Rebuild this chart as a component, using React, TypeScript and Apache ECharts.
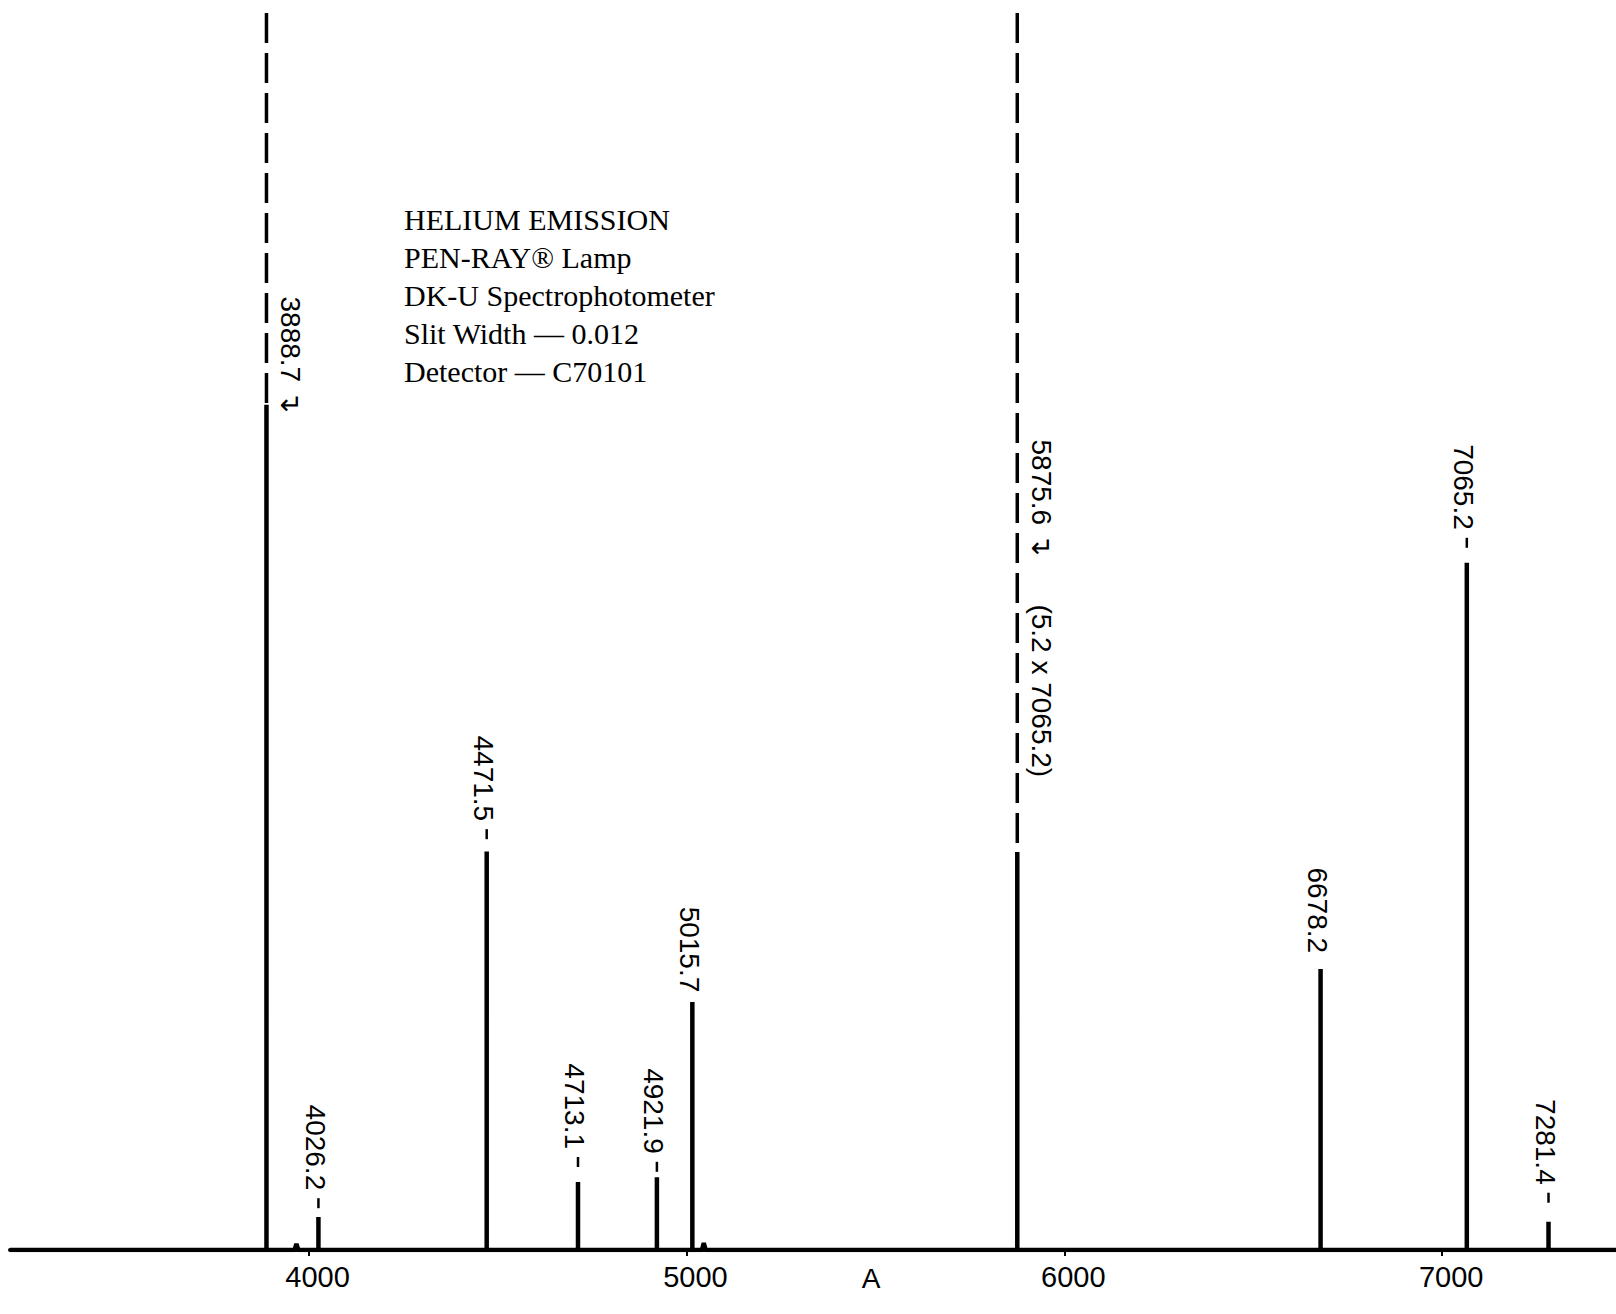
import React, { useEffect, useRef } from "react";
import * as echarts from "echarts";

// ---- data ----
const peakWavelengths = [3888.7, 4026.2, 4471.5, 4713.1, 4921.9, 5015.7, 5875.6, 6678.2, 7065.2, 7281.4];
// recorded (solid) pen height, relative units (7065.2 = 100)
const peakHeights = [123, 4.8, 58, 9.9, 10.6, 36.1, 57.9, 40.9, 100, 4.1];
// peaks that run off scale (drawn dashed up to full scale)
const offScalePeaks = [3888.7, 5875.6];
const fullScale = 180;
// tiny baseline bumps
const minorWavelengths = [3968, 5046];
const minorHeights = [0.9, 1.0];

const labelWavelengths = [3888.7, 4026.2, 4471.5, 4713.1, 4921.9, 5015.7, 5875.6, 5875.6, 6678.2, 7065.2, 7281.4];
const labelTexts = ["3888.7 ↴", "4026.2", "4471.5", "4713.1", "4921.9", "5015.7", "5875.6 ↴", "(5.2 x 7065.2)", "6678.2", "7065.2", "7281.4"];
const labelEnds = [121.8, 8.7, 62.4, 14.7, 14.0, 37.5, 101, 68.8, 43.2, 104.8, 9.5];
const labelBeside = [true, false, false, false, false, false, true, true, false, false, false];
const labelTicked = [false, true, true, true, true, false, false, false, false, true, true];

const tickValues = [4000, 5000, 6000, 7000];
const axisMin = 3210;
const axisMax = 7460;
const unitLabel = "A";
const infoLines = [
  "HELIUM EMISSION",
  "PEN-RAY® Lamp",
  "DK-U Spectrophotometer",
  "Slit Width — 0.012",
  "Detector — C70101",
];

function buildTrace(): number[][] {
  const events: { w: number; h: number; minor: boolean }[] = [];
  peakWavelengths.forEach((w, i) => events.push({ w, h: peakHeights[i], minor: false }));
  minorWavelengths.forEach((w, i) => events.push({ w, h: minorHeights[i], minor: true }));
  events.sort((a, b) => a.w - b.w);
  const pts: number[][] = [[axisMin, 0]];
  events.forEach((e) => {
    if (e.minor) {
      pts.push([e.w - 5, 0], [e.w, e.h], [e.w + 5, 0]);
    } else {
      pts.push([e.w, 0], [e.w, e.h], [e.w, 0]);
    }
  });
  pts.push([axisMax, 0]);
  return pts;
}

export default function App() {
  const ref = useRef<HTMLDivElement>(null);

  useEffect(() => {
    if (!ref.current) return;
    const chart = echarts.init(ref.current, null, { renderer: "svg" });
    const labelFont = '28px "Liberation Sans", Arial, sans-serif';

    const dashedSeries = offScalePeaks.map((w) => {
      const h = peakHeights[peakWavelengths.indexOf(w)];
      return {
        type: "line",
        data: [
          [w, fullScale],
          [w, h],
        ],
        symbol: "none",
        silent: true,
        lineStyle: { color: "#000", width: 3.5, type: [30, 10] },
      };
    });

    chart.setOption({
      animation: false,
      backgroundColor: "#fff",
      grid: { left: 10, right: 0, top: 13, bottom: 64 },
      xAxis: {
        type: "value",
        min: axisMin,
        max: axisMax,
        splitLine: { show: false },
        axisLine: { show: true, onZero: false, lineStyle: { color: "#000", width: 4 } },
        axisTick: { show: true, customValues: tickValues, length: 6, lineStyle: { color: "#000", width: 2 } },
        axisLabel: {
          customValues: tickValues,
          formatter: (v: number) => String(v),
          color: "#000",
          fontSize: 29,
          fontFamily: '"Liberation Sans Narrow", "Liberation Sans", Arial, sans-serif',
          margin: 12,
          padding: [0, 0, 0, 18],
        },
      },
      yAxis: { type: "value", min: 0, max: fullScale, show: false },
      series: [
        {
          type: "line",
          data: buildTrace(),
          symbol: "none",
          silent: true,
          lineStyle: { color: "#000", width: 4.5, join: "bevel" },
        },
        ...dashedSeries,
        {
          type: "custom",
          coordinateSystem: "cartesian2d",
          silent: true,
          data: labelWavelengths.map((w, i) => [w, labelEnds[i]]),
          encode: { x: 0, y: 1 },
          renderItem: (params: any, api: any) => {
            const i = params.dataIndex;
            const p = api.coord([api.value(0), api.value(1)]);
            const x = p[0] + (labelBeside[i] ? 24 : -3);
            const children: any[] = [
              {
                type: "text",
                x,
                y: p[1],
                rotation: -Math.PI / 2,
                style: {
                  text: labelTexts[i],
                  fill: "#000",
                  font: labelFont,
                  align: "right",
                  verticalAlign: "middle",
                },
              },
            ];
            if (labelTicked[i]) {
              children.push({
                type: "line",
                shape: { x1: p[0], y1: p[1] + 8, x2: p[0], y2: p[1] + 18 },
                style: { stroke: "#000", lineWidth: 2.5 },
              });
            }
            return { type: "group", children };
          },
        },
      ],
      graphic: [
        {
          type: "text",
          left: 404,
          top: 200,
          style: {
            text: infoLines.join("\n"),
            font: '30px "Liberation Serif", "Times New Roman", serif',
            lineHeight: 38,
            fill: "#000",
          },
        },
        {
          type: "text",
          x: 871,
          y: 1278,
          style: {
            text: unitLabel,
            font: '28px "Liberation Sans", Arial, sans-serif',
            fill: "#000",
            align: "center",
            verticalAlign: "middle",
          },
        },
      ],
    });

    return () => chart.dispose();
  }, []);

  return (
    <div
      ref={ref}
      style={{ position: "absolute", left: 0, top: 0, width: 1616, height: 1314, background: "#fff" }}
    />
  );
}
